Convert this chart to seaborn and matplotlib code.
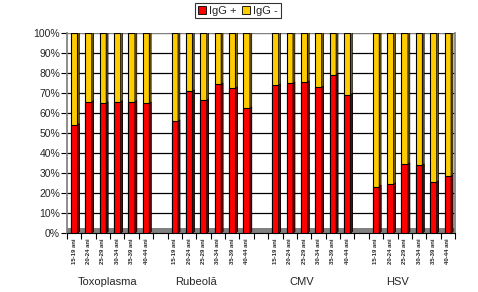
import matplotlib
matplotlib.use("Agg")
import matplotlib.pyplot as plt
import matplotlib.colors as mcolors
import seaborn as sns
import pandas as pd
from matplotlib.patches import Polygon, Patch

groups = ["Toxoplasma", "Rubeolă", "CMV", "HSV"]
ages = ["15-19 ani", "20-24 ani", "25-29 ani", "30-34 ani", "35-39 ani", "40-44 ani"]
igg_pos_toxo = [54.0, 65.5, 64.8, 65.5, 65.5, 64.8]
igg_pos_rub = [55.8, 70.8, 66.3, 74.3, 72.3, 62.3]
igg_pos_cmv = [73.8, 74.8, 75.3, 72.8, 79.2, 69.0]
igg_pos_hsv = [23.2, 24.3, 34.3, 33.8, 25.3, 28.3]
series = [igg_pos_toxo, igg_pos_rub, igg_pos_cmv, igg_pos_hsv]
legend_labels = ["IgG +", "IgG -"]

RED = "#FF0000"
YEL = "#FFCC00"

rows = []
order = []
tick_labels = []
for gi, (g, vals) in enumerate(zip(groups, series)):
    for a, v in zip(ages, vals):
        key = f"{g}|{a}"
        order.append(key)
        tick_labels.append(a)
        rows.append({"slot": key, "pos": v, "total": 100.0})
    if gi < len(groups) - 1:
        order.append(f"gap{gi}")
        tick_labels.append("")
df = pd.DataFrame(rows)

sns.set_theme(style="white")
plt.rcParams["font.family"] = ["Liberation Sans", "DejaVu Sans"]

fig = plt.figure(figsize=(4.78, 2.92), dpi=100)
ax = fig.add_axes([67/478, 1-233/292, (455-67)/478, 200/292])

# floor
ax.axhspan(0, 2.5, color="#808080", zorder=0.5, lw=0)
# gridlines
for yv in range(10, 100, 10):
    ax.axhline(yv, color="black", lw=0.9, zorder=0.6)
ax.axhline(100, color="#808080", lw=1.0, zorder=0.6)

sns.barplot(data=df, x="slot", y="total", order=order, color=YEL, width=0.45,
            edgecolor="black", linewidth=0.8, saturation=1, ax=ax, zorder=2)
sns.barplot(data=df, x="slot", y="pos", order=order, color=RED, width=0.45,
            edgecolor="black", linewidth=0.8, saturation=1, ax=ax, zorder=3)

# 3D side / top faces derived from the seaborn patches
dx, dy = 0.13, 0.8
for p in list(ax.patches):
    if not hasattr(p, "get_width") or p.get_height() <= 3:
        continue
    x0 = p.get_x(); w = p.get_width(); y0 = p.get_y(); h = p.get_height()
    x1 = x0 + w; y1 = y0 + h
    fc = p.get_facecolor()
    dark = tuple(c * 0.45 for c in fc[:3])
    z = p.get_zorder()
    side = Polygon([(x1, y0), (x1 + dx, y0 + dy), (x1 + dx, y1 + dy), (x1, y1)],
                   closed=True, facecolor=dark, edgecolor="black", lw=0.5, zorder=z)
    ax.add_patch(side)
    if fc[0] > 0.9 and fc[1] > 0.5:
        top = Polygon([(x0, y1), (x0 + dx, y1 + dy), (x1 + dx, y1 + dy), (x1, y1)],
                      closed=True, facecolor="black", edgecolor="black", lw=0.5, zorder=z)
        ax.add_patch(top)

ax.set_xlim(-0.5, len(order) - 0.5)
ax.set_ylim(0, 100)
ax.set_yticks(range(0, 101, 10))
ax.set_yticklabels([f"{v}%" for v in range(0, 101, 10)], fontsize=7.5)
ax.set_xticks(range(len(order)))
ax.set_xticklabels(tick_labels, rotation=90, fontsize=4.3, fontweight="bold")
ax.set_xticks([i + 0.5 for i in range(-1, len(order))], minor=True)
ax.tick_params(axis="x", which="major", length=0, pad=4)
ax.tick_params(axis="x", which="minor", length=4, width=0.8, color="black", direction="out")
ax.tick_params(axis="y", length=4, width=0.8, color="black", direction="out", pad=1)
ax.tick_params(left=True, bottom=True, which="both")
ax.set_xlabel("")
ax.set_ylabel("")
for s in ["top"]:
    ax.spines[s].set_visible(False)
ax.spines["left"].set_color("#808080")
ax.spines["right"].set_color("#808080")
ax.spines["bottom"].set_color("black")
ax.spines["bottom"].set_linewidth(0.8)

# group labels
group_x = [2.3, 8.5, 15.8, 22.5]
trans = matplotlib.transforms.blended_transform_factory(ax.transData, fig.transFigure)
for g, gx in zip(groups, group_x):
    ax.text(gx, 1 - 282/292, g, transform=trans, ha="center", va="center", fontsize=8)

handles = [Patch(facecolor=RED, edgecolor="black", lw=0.6),
           Patch(facecolor=YEL, edgecolor="black", lw=0.6)]
leg = fig.legend(handles, legend_labels, loc="upper center", bbox_to_anchor=(238/478, 0.99),
                 ncol=2, fontsize=8, frameon=True, fancybox=False, edgecolor="black",
                 handlelength=0.7, handleheight=0.7, handletextpad=0.3, columnspacing=0.5,
                 borderpad=0.25, borderaxespad=0)
leg.get_frame().set_linewidth(0.8)

fig.savefig("out.png", dpi=100, facecolor="white")
